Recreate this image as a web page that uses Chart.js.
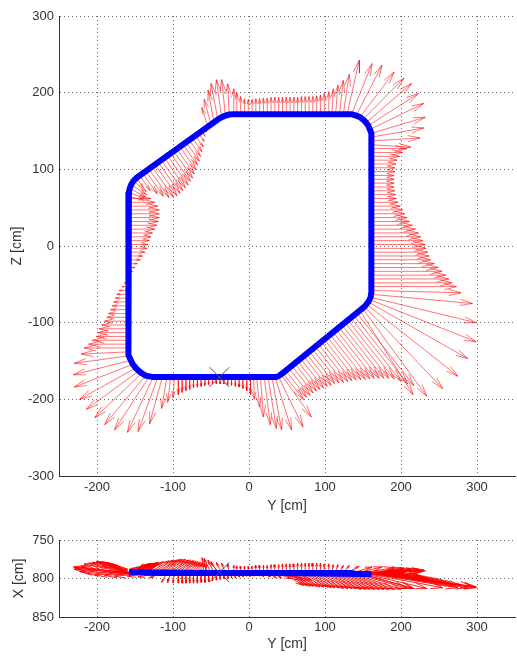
<!DOCTYPE html>
<html>
<head>
<meta charset="utf-8">
<script src="https://cdn.jsdelivr.net/npm/chart.js@4.4.1/dist/chart.umd.min.js"></script>
<style>
  html, body { margin: 0; padding: 0; background: #fff; overflow: hidden; }
  #wrap { position: relative; width: 517px; height: 656px; overflow: hidden; }
  #top { position: absolute; left: 0; top: 0; }
  #bottom { position: absolute; left: 0; top: 522px; }
</style>
</head>
<body>
<div id="wrap">
  <canvas id="top" width="530" height="520"></canvas>
  <canvas id="bottom" width="530" height="134"></canvas>
</div>
<script>
// tick values
const yTicks = [-200, -100, 0, 100, 200, 300];
const zTicks = [-300, -200, -100, 0, 100, 200, 300];
const xTicks = [750, 800, 850];

// blue path (cm): Y, Z and X of each vertex
const pathY = [-40, 36, 40, 44, 146, 152, 157, 160, 161, 161, 161, 159, 157, 154, 150, 146, 141, 135, 129, -21, -26, -31, -36, -41, -148, -152, -155, -157, -158, -159, -159, -158, -156, -153, -149, -145, -141, -136, -131, -126, -40];
const pathZ = [-171, -171, -169, -166, -84, -79, -73, -67, -60, 137, 147, 152, 157, 161, 165, 168, 170, 172, 172, 172, 171.5, 170, 168, 165, 89, 85, 80, 75, 70, 64, -136, -142, -148, -154, -159, -163, -166, -169, -170, -171, -171];
const pathX = [793, 793, 793, 793, 794, 794, 794, 794, 794, 794, 794, 794, 794, 794, 794, 794, 794, 793, 793, 793, 793, 793, 793, 793, 792, 792, 792, 792, 792, 792, 792, 792, 792, 792, 792, 792, 792, 793, 793, 793, 793];

// start marker
const startY = -39, startZ = -171, startX = 792;

// arrows: [Y, Z, dY, dZ, dX], base on the path
const arrowBaseX = 793;

const leftEdge = [
  [-159, 62, 30, 0, -9], [-159, 57, 35, 0, -10], [-159, 52, 39, 0, -11], [-159, 47, 41, 0, -12],
  [-159, 42, 41, 0, -12], [-159, 37, 41, 0, -13], [-159, 32, 40, 0, -13], [-159, 27, 38, 0, -13],
  [-159, 22, 35, 0, -12], [-159, 17, 32, 0, -12], [-159, 12, 30, 0, -11], [-159, 7, 28, 0, -11],
  [-159, 2, 26, 0, -10], [-159, -3, 25, 0, -10], [-159, -8, 22, 0, -9], [-159, -13, 19, 0, -9],
  [-159, -18, 16, 0, -8], [-159, -23, 12, 0, -8], [-159, -28, 9, 0, -7], [-159, -33, 6, 0, -7],
  [-159, -38, 3, 0, -6], [-159, -43, -2, 0, -6], [-159, -48, -5, 0, -7], [-159, -53, -8, 0, -8],
  [-159, -58, -12, 0, -9], [-159, -63, -15, 0, -10], [-159, -68, -17, 0, -10], [-159, -73, -19, 0, -11],
  [-159, -78, -21, 0, -12], [-159, -83, -23, 0, -12], [-159, -88, -26, 0, -13], [-159, -93, -28, 0, -13],
  [-159, -98, -31, 0, -14], [-159, -103, -35, 0, -14], [-159, -108, -38, 0, -15], [-159, -113, -40, 0, -15],
  [-159, -118, -42, 0, -15], [-159, -123, -47, 0, -14], [-159, -128, -52, 0, -13], [-159, -133, -58, 0, -12]
];

const leftBottomFan = [
  [-158, -138, -63, -3, -8], [-157, -143, -73, -10, -7], [-155, -149, -76, -19, -8], [-152, -154, -78, -30, -5],
  [-149, -159, -74, -41, -2], [-145, -163, -69, -50, 0], [-141, -166, -62, -58, 2], [-136, -169, -54, -64, 3],
  [-131, -170, -46, -70, 4], [-126, -171, -34, -72, 4], [-120, -171, -26, -71, 5], [-114, -171, -17, -61, 6]
];

const bottomEdge = [
  [-108, -171, -7, -41, 12], [-103, -171, -4, -33, 12], [-98, -171, -2, -27, 13], [-93, -171, 0, -23, 13],
  [-88, -171, 0, -20, 13], [-83, -171, 0, -18, 13], [-78, -171, 0, -16, 13], [-73, -171, 0, -14, 13],
  [-68, -171, 0, -13, 13], [-63, -171, 0, -12, 12], [-58, -171, 0, -11, 12], [-53, -171, 0, -10, 11],
  [-48, -171, 0, -9, 10], [-43, -171, 0, -9, 9], [-38, -171, 0, -9, 8], [-33, -171, 0, -9, 7],
  [-28, -171, 0, -10, 7], [-23, -171, 0, -11, 6], [-18, -171, 0, -12, 6], [-13, -171, 0, -13, 5],
  [-8, -171, 0, -15, 5], [-3, -171, 0, -18, 4], [2, -171, 0, -23, 4], [6, -171, 1, -29, 4]
];

const bottomRightCorner = [
  [10, -171, 4, -39, 4], [15, -171, 4, -52, 5], [20, -171, 8, -62, 5], [25, -171, 11, -67, 6],
  [30, -170, 13, -70, 6], [34, -170, 22, -70, 7], [38, -169, 33, -67, 8], [42, -167, 40, -56, 9]
];

const rightDiagonal = [
  [43.9, -164.9, 27.9, -35.3, 16], [47.8, -161.8, 27.9, -35.3, 16], [51.8, -158.7, 28.6, -36.1, 17],
  [55.7, -155.6, 28.6, -36.1, 17], [59.6, -152.5, 29.2, -36.8, 17], [63.5, -149.4, 29.8, -37.6, 18],
  [67.4, -146.3, 31.1, -39.2, 18], [71.4, -143.2, 31.7, -40.0, 18], [75.3, -140.1, 32.9, -41.6, 19],
  [79.2, -137.0, 33.5, -42.3, 19], [83.1, -133.8, 35.4, -44.7, 19], [87.0, -130.7, 37.3, -47.0, 20],
  [91.0, -127.6, 39.1, -49.4, 20], [94.9, -124.5, 40.4, -51.0, 20], [98.8, -121.4, 42.2, -53.3, 20],
  [102.7, -118.3, 44.7, -56.4, 21], [106.6, -115.2, 46.6, -58.8, 21], [110.6, -112.1, 48.4, -61.2, 21],
  [114.5, -109.0, 50.3, -63.5, 21], [118.4, -105.9, 52.8, -66.6, 21], [122.3, -102.8, 55.3, -69.8, 21],
  [126.2, -99.7, 57.8, -72.9, 21], [130.2, -96.6, 60.9, -76.8, 21], [134.1, -93.5, 65.8, -83.1, 21],
  [138.0, -90.4, 70.8, -89.4, 20], [141.9, -87.3, 75.1, -94.9, 20]
];

const rightBottomFan = [
  [146, -84, 70, -110, 20], [149, -81, 85, -115, 20], [152, -79, 103, -107, 19], [155, -76, 120, -94, 19],
  [157, -73, 131, -74, 19], [159, -70, 140, -55, 19], [160, -67, 139, -33, 18], [161, -63, 133, -12, 17]
];

const rightEdge = [
  [161, 127, 47, 0, -4], [161, 122, 41, 0, -4], [161, 117, 37, 0, -3], [161, 112, 34, 0, -3],
  [161, 107, 32, 0, -3], [161, 102, 31, 0, -2], [161, 97, 31, 0, -2], [161, 92, 30, 0, -2],
  [161, 87, 30, 0, -1], [161, 82, 30, 0, -1], [161, 77, 30, 0, -1], [161, 72, 31, 0, 0],
  [161, 67, 32, 0, 0], [161, 62, 33, 0, 0], [161, 57, 35, 0, 1], [161, 52, 38, 0, 1],
  [161, 47, 41, 0, 2], [161, 42, 44, 0, 2], [161, 37, 47, 0, 3], [161, 32, 50, 0, 3],
  [161, 27, 54, 0, 4], [161, 22, 58, 0, 4], [161, 17, 62, 0, 5], [161, 12, 65, 0, 5],
  [161, 7, 68, 0, 6], [161, 2, 71, 0, 6], [161, -3, 72, 0, 7], [161, -8, 74, 0, 7],
  [161, -13, 76, 0, 8], [161, -18, 78, 0, 8], [161, -23, 83, 0, 9], [161, -28, 88, 0, 10],
  [161, -33, 93, 0, 11], [161, -38, 98, 0, 12], [161, -43, 102, 0, 13], [161, -48, 106, 0, 14],
  [161, -53, 112, 0, 15], [161, -58, 118, -3, 16]
];

const rightTopFan = [
  [129, 172, 16, 70, -9], [135, 172, 27, 66, -8], [141, 170, 34, 66, -8], [146, 168, 45, 59, -7],
  [150, 165, 54, 54, -6], [154, 161, 60, 51, -5], [157, 157, 66, 42, -4], [159, 152, 71, 34, -4],
  [161, 147, 71, 21, -3], [161, 142, 69, 12, -3], [161, 137, 64, 4, -3], [161, 132, 52, -3, -4]
];

const topEdge = [
  [-16, 172, 0, 28, -9], [-11, 172, 0, 23, -9], [-6, 172, 0, 20, -9], [-1, 172, 0, 19, -9],
  [4, 172, 0, 19, -9], [9, 172, 0, 20, -10], [14, 172, 0, 20, -10], [19, 172, 0, 21, -10],
  [24, 172, 0, 21, -10], [29, 172, 0, 22, -11], [34, 172, 0, 22, -11], [39, 172, 0, 22, -11],
  [44, 172, 0, 22, -12], [49, 172, 0, 22, -12], [54, 172, 0, 22, -12], [59, 172, 0, 22, -12],
  [64, 172, 0, 22, -13], [69, 172, 0, 23, -13], [74, 172, 0, 23, -13], [79, 172, 0, 23, -13],
  [84, 172, 0, 23, -13], [89, 172, 0, 24, -13], [94, 172, 0, 25, -13], [99, 172, 0, 27, -12],
  [104, 172, 1, 29, -12], [109, 172, 2, 33, -11], [114, 172, 3, 38, -11], [119, 172, 5, 44, -10],
  [124, 172, 8, 52, -10]
];

const upTurn = [
  [-54, 155.5, -8, 25, -20], [-50, 158.4, -9, 33, -19], [-46, 161.3, -8, 42, -17], [-41, 165, -9, 47, -15],
  [-36, 168, -7, 49, -14], [-31, 170, -5, 47, -13], [-26, 171.5, -2, 40, -12], [-21, 172, 1, 33, -10]
];

const leftDiagonal = [
  [-148.0, 89.0, 8.7, -12.2, -12], [-143.9, 91.9, 13.9, -19.6, -13], [-139.8, 94.8, 19.1, -26.9, -14],
  [-135.8, 97.7, 23.1, -32.6, -15], [-131.7, 100.6, 26.6, -37.5, -16], [-127.6, 103.5, 28.3, -40.0, -17],
  [-123.5, 106.3, 28.9, -40.8, -17], [-119.4, 109.2, 28.9, -40.8, -18], [-115.4, 112.1, 28.3, -40.0, -18],
  [-111.3, 115.0, 27.7, -39.2, -18], [-107.2, 117.9, 27.2, -38.4, -17], [-103.1, 120.8, 26.0, -36.7, -17],
  [-99.0, 123.7, 24.9, -35.1, -16], [-95.0, 126.6, 23.1, -32.6, -16], [-90.9, 129.5, 21.4, -30.2, -15],
  [-86.8, 132.4, 19.1, -26.9, -15], [-82.7, 135.2, 17.3, -24.5, -14], [-78.6, 138.1, 15.0, -21.2, -14],
  [-74.6, 141.0, 12.7, -18.0, -13], [-70.5, 143.9, 10.4, -14.7, -13], [-66.4, 146.8, 7.5, -10.6, -12],
  [-62.3, 149.7, 4.6, -6.5, -12], [-58.2, 152.6, 2.3, -3.3, -11]
];

const leftTopCorner = [
  [-159, 65, 20, -5, -8], [-158, 70, 21, -8, -8], [-157, 75, 21, -11, -9], [-155, 80, 20, -13, -10],
  [-152, 85, 17, -14, -11]
];

const sections = [leftEdge, leftBottomFan, bottomEdge, bottomRightCorner, rightDiagonal, rightBottomFan,
  rightEdge, rightTopFan, topEdge, upTurn, leftDiagonal, leftTopCorner];

// quiver-style arrow: shaft + narrow head, head length capped for long vectors
const HEAD = 0.33, WIDE = 0.25, HEAD_MAX = 16;
function quiver(pick) {
  const pts = [];
  sections.forEach(rows => rows.forEach(r => {
    const [bx, by, u, v] = pick(r);
    const tx = bx + u, ty = by + v;
    const len = Math.hypot(u, v) || 1;
    const k = Math.min(HEAD, HEAD_MAX / len);
    pts.push({x: bx, y: by}, {x: tx, y: ty}, {x: null, y: null});
    pts.push({x: tx - k * (u + WIDE * v), y: ty - k * (v - WIDE * u)},
             {x: tx, y: ty},
             {x: tx - k * (u - WIDE * v), y: ty - k * (v + WIDE * u)},
             {x: null, y: null});
  }));
  return pts;
}

const font = 'Liberation Sans, Arial, Helvetica, sans-serif';

function axis(list, min, max, title, o) {
  return {
    type: 'linear', min: min, max: max, reverse: !!o.reverse,
    afterBuildTicks: s => { s.ticks = list.map(v => ({value: v})); },
    afterFit: s => { if (o.width) s.width = o.width; if (o.height) s.height = o.height; },
    grid: { color: 'rgba(0,0,0,0.6)', lineWidth: 1, drawTicks: false },
    border: { display: true, color: '#333', width: 1, dash: [1, 3] },
    ticks: { color: '#333', font: { family: font, size: 13 }, padding: o.pad, callback: v => String(v) },
    title: { display: true, text: title, color: '#333', font: { family: font, size: 14 }, padding: o.titlePad }
  };
}

function datasets(arrows, py, pv, sy, sv, red) {
  return [
    { data: [{x: sy, y: sv}], pointStyle: 'crossRot', pointRadius: 14, borderColor: '#555',
      borderWidth: 1, backgroundColor: 'transparent', showLine: false, order: 0 },
    { data: py.map((y, i) => ({x: y, y: pv[i]})), showLine: true, borderColor: '#0000ff',
      borderWidth: 6, pointRadius: 0, order: 1 },
    { data: arrows, showLine: true, borderColor: red, borderWidth: 1, pointRadius: 0,
      spanGaps: false, segment: { borderColor: () => red }, order: 2 }
  ];
}

const common = {
  responsive: false, animation: false, events: [],
  plugins: { legend: { display: false }, tooltip: { enabled: false } }
};

new Chart(document.getElementById('top'), {
  type: 'scatter',
  data: { datasets: datasets(quiver(r => [r[0], r[1], r[2], r[3]]), pathY, pathZ, startY, startZ, 'rgba(255,0,0,0.55)') },
  options: Object.assign({}, common, {
    layout: { padding: { top: 16, right: 11, left: 0, bottom: 0 } },
    scales: {
      x: axis(yTicks, -250, 350, 'Y [cm]', { height: 44, pad: 4, titlePad: { top: 0, bottom: 5 } }),
      y: axis(zTicks, -300, 300, 'Z [cm]', { width: 59, pad: 5, titlePad: { top: 8.5, bottom: 0 } })
    }
  })
});

new Chart(document.getElementById('bottom'), {
  type: 'scatter',
  data: { datasets: datasets(quiver(r => [r[0], arrowBaseX, r[2], r[4]]), pathY, pathX, startY, startX, 'rgba(255,0,0,0.85)') },
  options: Object.assign({}, common, {
    layout: { padding: { top: 18, right: 11, left: 0, bottom: 0 } },
    scales: {
      x: axis(yTicks, -250, 350, 'Y [cm]', { height: 39, pad: 3, titlePad: { top: 0, bottom: 3 } }),
      y: axis(xTicks, 750, 850, 'X [cm]', { width: 59, pad: 5, reverse: true, titlePad: { top: 10.5, bottom: 0 } })
    }
  })
});
</script>
</body>
</html>
